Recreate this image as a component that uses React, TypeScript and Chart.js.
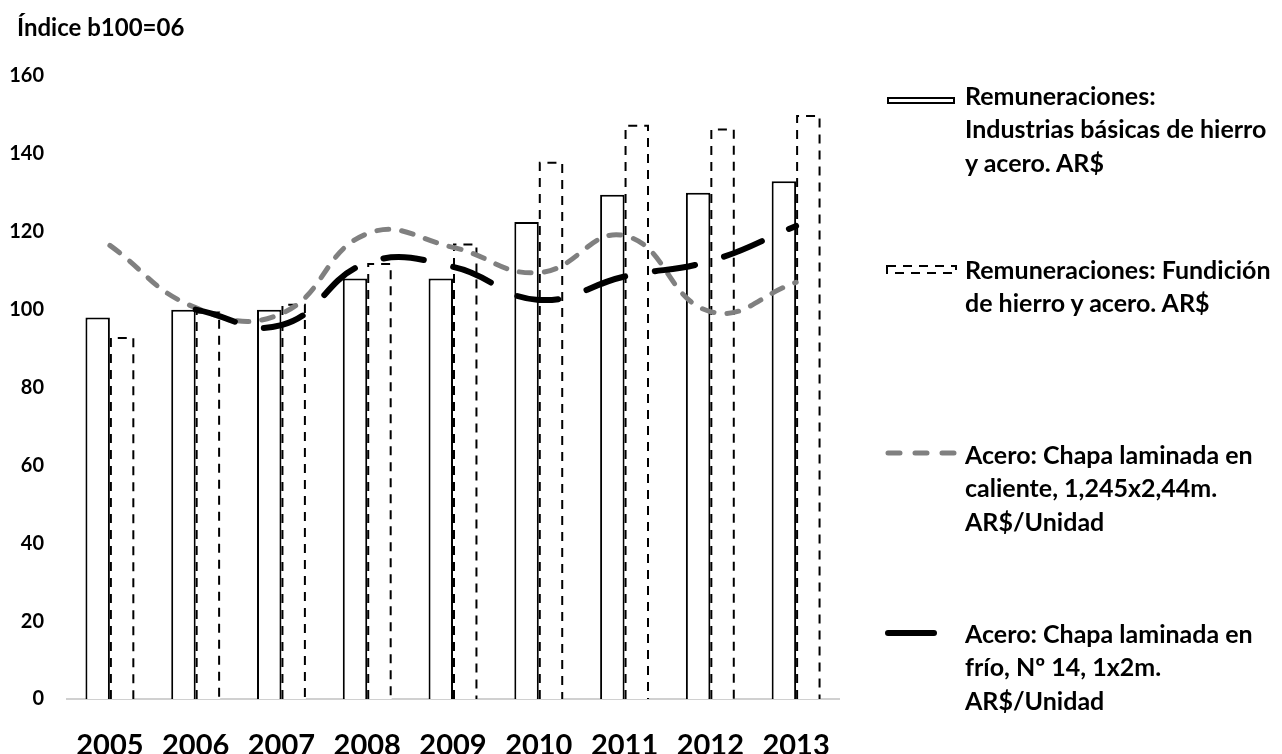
import React, { useEffect, useRef } from 'react';
import { Chart, registerables } from 'chart.js';

Chart.register(...registerables);

const years = ['2005', '2006', '2007', '2008', '2009', '2010', '2011', '2012', '2013'];
const remIndustrias = [98, 100, 100, 108, 108, 122.5, 129.5, 130, 133];
const remFundicion = [93, 99.5, 101.5, 112, 117, 138, 147.5, 146.5, 150];
const chapaCaliente = [116.5, 100.5, 99, 119.5, 116, 109.5, 119, 99.5, 107];
const chapaFrio = [null, 100, 96, 112, 111, 102.5, 108.5, 112.5, 121.5];

const yMin = 0;
const yMax = 160;
const yStep = 20;

const titleText = 'Índice b100=06';
const legendLines = [
  ['Remuneraciones:', 'Industrias básicas de hierro', 'y acero. AR$'],
  ['Remuneraciones: Fundición', 'de hierro y acero. AR$'],
  ['Acero: Chapa laminada en', 'caliente, 1,245x2,44m.', 'AR$/Unidad'],
  ['Acero: Chapa laminada en', 'frío, Nº 14, 1x2m.', 'AR$/Unidad'],
];

const FONT = 'Lato, "Open Sans", sans-serif';

const dashedBarBorder = {
  id: 'dashedBarBorder',
  afterDatasetDraw(chart: any, args: any) {
    if (args.index !== 1) return;
    const ctx = chart.ctx;
    ctx.save();
    ctx.strokeStyle = '#000';
    ctx.lineWidth = 2;
    ctx.setLineDash([9, 7]);
    args.meta.data.forEach((el: any) => {
      const { x, y, base, width } = el.getProps(['x', 'y', 'base', 'width'], true);
      const l = x - width / 2 + 1;
      const r = x + width / 2 - 1;
      const t = y + 1;
      ctx.beginPath();
      ctx.moveTo(l, base);
      ctx.lineTo(l, t);
      ctx.lineTo(r, t);
      ctx.lineTo(r, base);
      ctx.stroke();
    });
    ctx.restore();
  },
};

function Swatch({ kind }: { kind: number }) {
  if (kind === 0) {
    return <div style={{ position: 'absolute', left: 887, top: 0, width: 68, height: 7, border: '2px solid #000', boxSizing: 'border-box', background: '#fff' }} />;
  }
  if (kind === 1) {
    return (
      <svg style={{ position: 'absolute', left: 886, top: 0 }} width={72} height={10}>
        <rect x={1} y={1} width={69} height={7} fill="#fff" stroke="#000" strokeWidth={2} strokeDasharray="9 7" />
      </svg>
    );
  }
  if (kind === 2) {
    return (
      <svg style={{ position: 'absolute', left: 880, top: 0 }} width={82} height={10}>
        <line x1={8} y1={5} x2={74} y2={5} stroke="#808080" strokeWidth={5} strokeLinecap="round" strokeDasharray="12 15" />
      </svg>
    );
  }
  return (
    <svg style={{ position: 'absolute', left: 880, top: 0 }} width={62} height={12}>
      <line x1={8} y1={6} x2={54} y2={6} stroke="#000" strokeWidth={6} strokeLinecap="round" />
    </svg>
  );
}

const legendTops = [79, 253, 438, 617];
const swatchTops = [97, 265, 448, 627];

export default function App() {
  const canvasRef = useRef<HTMLCanvasElement | null>(null);

  useEffect(() => {
    const canvas = canvasRef.current;
    if (!canvas) return;
    const chart = new Chart(canvas, {
      type: 'bar',
      data: {
        labels: years,
        datasets: [
          {
            type: 'bar',
            label: legendLines[0].join(' '),
            data: remIndustrias,
            backgroundColor: '#ffffff',
            borderColor: '#000000',
            borderWidth: 2,
            categoryPercentage: 0.57,
            barPercentage: 1,
            order: 2,
          },
          {
            type: 'bar',
            label: legendLines[1].join(' '),
            data: remFundicion,
            backgroundColor: '#ffffff',
            borderWidth: 0,
            categoryPercentage: 0.57,
            barPercentage: 1,
            order: 2,
          },
          {
            type: 'line',
            label: legendLines[2].join(' '),
            data: chapaCaliente,
            borderColor: '#808080',
            borderWidth: 5,
            borderDash: [12, 13],
            borderCapStyle: 'round',
            borderJoinStyle: 'round',
            tension: 0.45,
            pointRadius: 0,
            fill: false,
            order: 1,
          },
          {
            type: 'line',
            label: legendLines[3].join(' '),
            data: chapaFrio,
            borderColor: '#000000',
            borderWidth: 6,
            borderDash: [41, 30],
            borderCapStyle: 'round',
            borderJoinStyle: 'round',
            tension: 0.45,
            pointRadius: 0,
            fill: false,
            order: 0,
          },
        ] as any,
      },
      options: {
        animation: false,
        responsive: false,
        maintainAspectRatio: false,
        layout: { padding: { top: 76, right: 443, left: 0, bottom: 0 } },
        plugins: {
          legend: { display: false },
          tooltip: { enabled: false },
          title: { display: false },
        },
        scales: {
          x: {
            grid: { display: false, drawTicks: false },
            border: { display: true, color: '#d0d0d0', width: 2 },
            ticks: {
              color: '#000',
              padding: 29,
              font: { family: FONT, size: 29, weight: 'bold' },
            },
            afterFit: (s: any) => { s.height = 55; },
          },
          y: {
            min: yMin,
            max: yMax,
            grid: { display: false, drawTicks: false },
            border: { display: false },
            ticks: {
              stepSize: yStep,
              color: '#000',
              padding: 23,
              font: { family: FONT, size: 20, weight: 'bold' },
            },
            afterFit: (s: any) => { s.width = 67; },
          },
        },
      } as any,
      plugins: [dashedBarBorder],
    });
    return () => chart.destroy();
  }, []);

  return (
    <div style={{ position: 'absolute', left: 0, top: 0, width: 1282, height: 754, background: '#fff', overflow: 'hidden' }}>
      <canvas ref={canvasRef} width={1282} height={754} style={{ position: 'absolute', left: 0, top: 0, width: 1282, height: 754 }} />
      <div style={{ position: 'absolute', left: 17, top: 10, fontFamily: FONT, fontWeight: 700, fontSize: 24, lineHeight: '33px', color: '#000', whiteSpace: 'nowrap' }}>{titleText}</div>
      {legendLines.map((lines, i) => (
        <React.Fragment key={i}>
          <div style={{ position: 'absolute', left: 0, top: swatchTops[i], width: 1000, height: 12 }}>
            <Swatch kind={i} />
          </div>
          <div style={{ position: 'absolute', left: 965, top: legendTops[i], fontFamily: FONT, fontWeight: 700, fontSize: 25, lineHeight: '33.3px', color: '#000', whiteSpace: 'nowrap' }}>
            {lines.map((ln, j) => <div key={j}>{ln}</div>)}
          </div>
        </React.Fragment>
      ))}
    </div>
  );
}
